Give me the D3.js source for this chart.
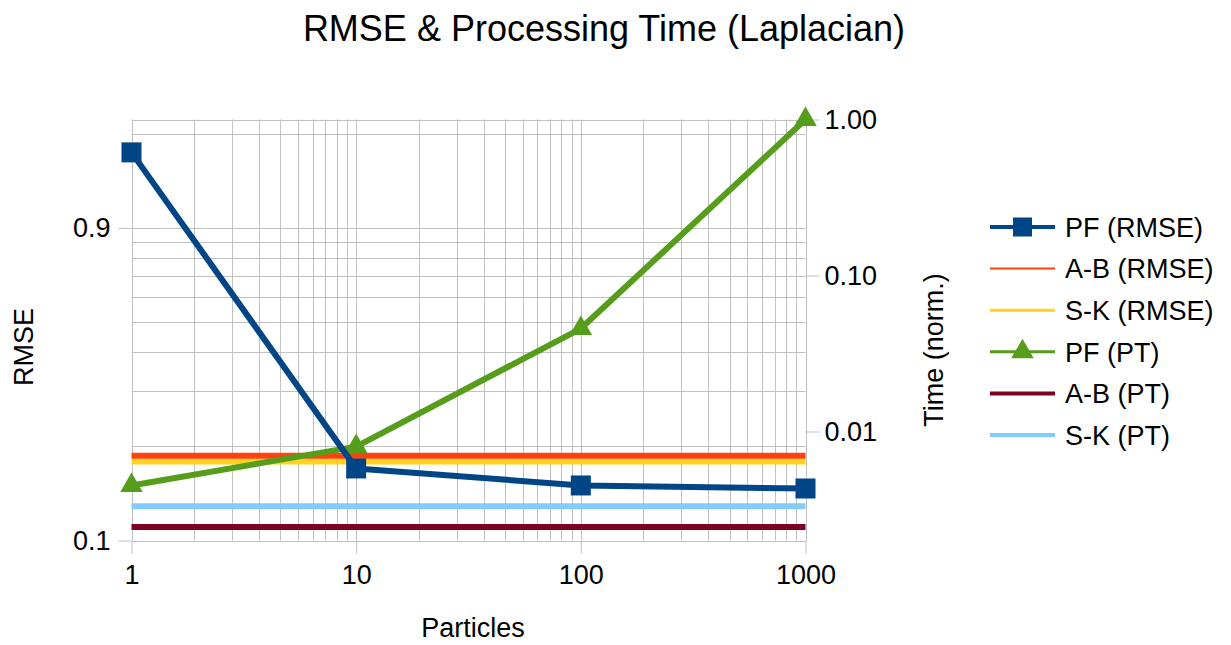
<!DOCTYPE html>
<html>
<head>
<meta charset="utf-8">
<script src="https://cdn.jsdelivr.net/npm/d3@7"></script>
<style>
  body { margin: 0; background: #fff; }
  text { font-family: "Liberation Sans", Arial, sans-serif; fill: #000; }
</style>
</head>
<body>
<div id="chart"></div>
<script>
// particles on the x axis
var particles = [1, 10, 100, 1000];

// RMSE series (left axis)
var pfRmse = [1.57, 0.153, 0.135, 0.132];
var abRmse = 0.168;
var skRmse = 0.161;

// processing time series (right axis, normalised)
var pfTime = [0.0045, 0.0080, 0.0457, 1.0];
var abTime = 0.00244;
var skTime = 0.00332;

// tick values
var xTicks = [1, 10, 100, 1000];
var leftTicks = [0.09, 0.9];
var rightTicks = [0.01, 0.1, 1];

var width = 1231, height = 645;
var plot = {left: 131.5, right: 805.5, top: 119.5, bottom: 540.5};
var fontSize = "27px";

var svg = d3.select("#chart").append("svg")
    .attr("width", width)
    .attr("height", height);

var xa = d3.scaleLog().domain([1, 1000]).range([plot.left, plot.right]);
var yl = d3.scaleLog().domain([0.09, 2]).range([plot.bottom, plot.top]);
var yr = d3.scaleLog().domain([0.002, 1]).range([plot.bottom, plot.top]);

var gridColor = "#c0c0c0";

// vertical gridlines: majors at each decade, minors in 10 linear steps
var xGrid = [];
for (var d = 1; d < 1000; d *= 10) {
    for (var k = 0; k < 10; k++) xGrid.push(d + k * d * 0.9);
}
xGrid.push(1000);

// horizontal gridlines from the left axis
var yGrid = [];
for (var m = 1; m <= 10; m++) yGrid.push(0.09 * m);
yGrid.push(1.8);
yGrid.push(2);

var grid = svg.append("g").attr("class", "grid");
grid.selectAll(".vg").data(xGrid).enter().append("line")
    .attr("x1", function(v) { return Math.round(xa(v)) + 0.5; })
    .attr("x2", function(v) { return Math.round(xa(v)) + 0.5; })
    .attr("y1", plot.top).attr("y2", plot.bottom)
    .attr("stroke", gridColor).attr("stroke-width", 1);
grid.selectAll(".hg").data(yGrid).enter().append("line")
    .attr("y1", function(v) { return Math.round(yl(v)) + 0.5; })
    .attr("y2", function(v) { return Math.round(yl(v)) + 0.5; })
    .attr("x1", plot.left).attr("x2", plot.right)
    .attr("stroke", gridColor).attr("stroke-width", 1);

// axes
function styleAxis(g) {
    g.select(".domain").remove();
    g.selectAll(".tick line").attr("stroke", gridColor);
    g.selectAll(".tick text")
        .style("font-family", "'Liberation Sans', Arial, sans-serif")
        .style("font-size", fontSize)
        .attr("fill", "#000");
}

svg.append("g")
    .attr("transform", "translate(0," + plot.bottom + ")")
    .call(d3.axisBottom(xa).tickValues(xTicks).tickFormat(d3.format("d"))
        .tickSizeInner(13).tickSizeOuter(0).tickPadding(11))
    .call(styleAxis);

svg.append("g")
    .attr("transform", "translate(" + plot.left + ",0)")
    .call(d3.axisLeft(yl).tickValues(leftTicks).tickFormat(d3.format(".1f"))
        .tickSizeInner(13).tickSizeOuter(0).tickPadding(8))
    .call(styleAxis);

svg.append("g")
    .attr("transform", "translate(" + plot.right + ",0)")
    .call(d3.axisRight(yr).tickValues(rightTicks).tickFormat(d3.format(".2f"))
        .tickSizeInner(14).tickSizeOuter(0).tickPadding(5))
    .call(styleAxis);

// flat reference lines
var flat = [
    {value: skTime, scale: yr, color: "#83caff"},
    {value: abTime, scale: yr, color: "#7e0021"},
    {value: skRmse, scale: yl, color: "#ffd320"},
    {value: abRmse, scale: yl, color: "#ff420e"}
];
svg.selectAll(".flat").data(flat).enter().append("line")
    .attr("x1", plot.left).attr("x2", plot.right)
    .attr("y1", function(f) { return f.scale(f.value); })
    .attr("y2", function(f) { return f.scale(f.value); })
    .attr("stroke", function(f) { return f.color; })
    .attr("stroke-width", 6);

// PF (PT) with triangles
var green = "#579d1c", blue = "#004586";
var pfTimePts = particles.map(function(p, i) { return [xa(p), yr(pfTime[i])]; });
svg.append("path")
    .attr("d", d3.line()(pfTimePts))
    .attr("fill", "none").attr("stroke", green).attr("stroke-width", 6)
    .attr("stroke-linejoin", "round");
var tri = d3.symbol().type(d3.symbolTriangle).size(220);
svg.selectAll(".tri").data(pfTimePts).enter().append("path")
    .attr("d", tri)
    .attr("transform", function(p) { return "translate(" + p[0] + "," + p[1] + ")"; })
    .attr("fill", green);

// PF (RMSE) with squares
var pfRmsePts = particles.map(function(p, i) { return [xa(p), yl(pfRmse[i])]; });
svg.append("path")
    .attr("d", d3.line()(pfRmsePts))
    .attr("fill", "none").attr("stroke", blue).attr("stroke-width", 6)
    .attr("stroke-linejoin", "round");
svg.selectAll(".sq").data(pfRmsePts).enter().append("rect")
    .attr("x", function(p) { return p[0] - 10; })
    .attr("y", function(p) { return p[1] - 10; })
    .attr("width", 20).attr("height", 20)
    .attr("fill", blue);

// titles
svg.append("text")
    .attr("x", 604).attr("y", 41)
    .style("text-anchor", "middle")
    .style("font-size", "36px")
    .text("RMSE & Processing Time (Laplacian)");

svg.append("text")
    .attr("x", 473).attr("y", 637)
    .style("text-anchor", "middle")
    .style("font-size", fontSize)
    .text("Particles");

svg.append("text")
    .attr("transform", "translate(33,347) rotate(-90)")
    .style("text-anchor", "middle")
    .style("font-size", fontSize)
    .text("RMSE");

svg.append("text")
    .attr("transform", "translate(943,350) rotate(-90)")
    .style("text-anchor", "middle")
    .style("font-size", fontSize)
    .text("Time (norm.)");

// legend
var legendItems = [
    {name: "PF (RMSE)", color: blue, width: 4, marker: "square"},
    {name: "A-B (RMSE)", color: "#ff420e", width: 2, marker: null},
    {name: "S-K (RMSE)", color: "#ffd320", width: 3, marker: null},
    {name: "PF (PT)", color: green, width: 3, marker: "triangle"},
    {name: "A-B (PT)", color: "#7e0021", width: 4, marker: null},
    {name: "S-K (PT)", color: "#83caff", width: 4, marker: null}
];
var legend = svg.selectAll(".legend").data(legendItems).enter().append("g")
    .attr("transform", function(d, i) { return "translate(990," + (227 + i * 41.6) + ")"; });
legend.append("line")
    .attr("x1", 0).attr("x2", 65)
    .attr("stroke", function(d) { return d.color; })
    .attr("stroke-width", function(d) { return d.width; });
legend.filter(function(d) { return d.marker == "square"; }).append("rect")
    .attr("x", 23).attr("y", -9.5).attr("width", 19).attr("height", 19)
    .attr("fill", blue);
legend.filter(function(d) { return d.marker == "triangle"; }).append("path")
    .attr("d", tri)
    .attr("transform", "translate(32.5,0)")
    .attr("fill", green);
legend.append("text")
    .attr("x", 75).attr("dy", "0.36em")
    .style("font-size", fontSize)
    .text(function(d) { return d.name; });
</script>
</body>
</html>
